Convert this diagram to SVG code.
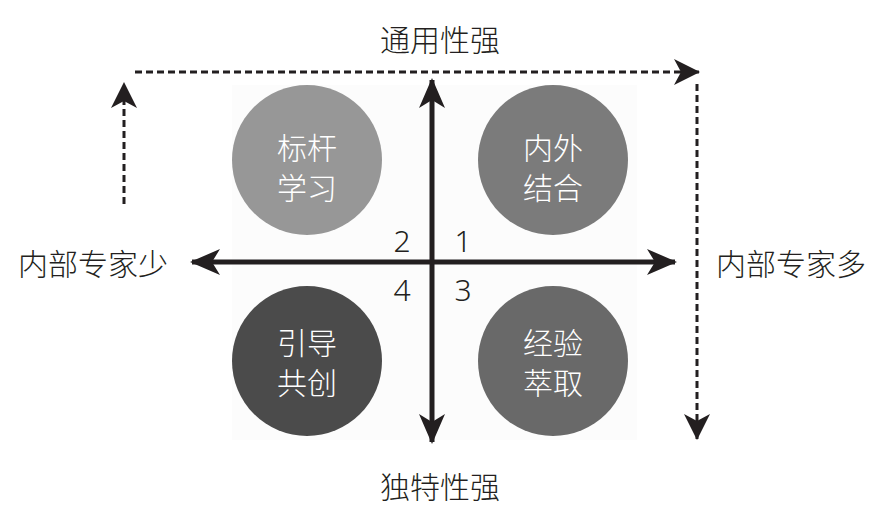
<svg xmlns="http://www.w3.org/2000/svg" width="882" height="530" viewBox="0 0 882 530">
<style>
.lbl{font-family:"Noto Sans CJK SC","Noto Sans",sans-serif;font-size:30px;font-weight:300;fill:#231f20;text-anchor:middle;dominant-baseline:central}
.ct{font-family:"Noto Sans CJK SC",sans-serif;font-size:30px;font-weight:300;fill:#ffffff;text-anchor:middle;dominant-baseline:central}
.num{font-family:"Noto Sans","Liberation Sans",sans-serif;font-size:30px;font-weight:300;fill:#231f20;text-anchor:middle;dominant-baseline:central}
.axis{stroke:#231f20;stroke-width:5;fill:none}
.dash{stroke:#231f20;stroke-width:3;stroke-dasharray:7 4;fill:none}
</style>
<defs>
<marker id="ah" viewBox="0 0 30 26" refX="28" refY="13" markerWidth="30" markerHeight="26" markerUnits="userSpaceOnUse" orient="auto">
<path d="M0,0 L30,13 L0,26 L8,13 Z" fill="#231f20"/>
</marker>
<marker id="ahd" viewBox="0 0 26 26" refX="25" refY="13" markerWidth="26" markerHeight="26" markerUnits="userSpaceOnUse" orient="auto">
<path d="M0,0 L26,13 L0,26 L7,13 Z" fill="#231f20"/>
</marker>
</defs>
<rect x="0" y="0" width="882" height="530" fill="#ffffff"/>
<rect x="232" y="85" width="405" height="355" fill="#fcfcfc"/>
<g id="node-tl"><circle cx="307" cy="160" r="75" fill="#979797"/><text class="ct" x="307" y="146">标杆</text><text class="ct" x="307" y="186">学习</text></g>
<g id="node-tr"><circle cx="553" cy="160" r="75" fill="#7b7b7b"/><text class="ct" x="553" y="146">内外</text><text class="ct" x="553" y="186">结合</text></g>
<g id="node-bl"><circle cx="307" cy="361" r="75" fill="#4b4b4b"/><text class="ct" x="307" y="341">引导</text><text class="ct" x="307" y="381">共创</text></g>
<g id="node-br"><circle cx="553" cy="361" r="75" fill="#696969"/><text class="ct" x="553" y="341">经验</text><text class="ct" x="553" y="381">萃取</text></g>
<g id="connectors">
<line class="axis" x1="432" y1="262" x2="432" y2="80" marker-end="url(#ah)"/>
<line class="axis" x1="432" y1="262" x2="432" y2="442" marker-end="url(#ah)"/>
<line class="axis" x1="432" y1="262" x2="192" y2="262" marker-end="url(#ah)"/>
<line class="axis" x1="432" y1="262" x2="675" y2="262" marker-end="url(#ah)"/>
<line class="dash" x1="135" y1="72" x2="699" y2="72" marker-end="url(#ahd)"/>
<line class="dash" x1="124" y1="204" x2="124" y2="83" marker-end="url(#ahd)"/>
<line class="dash" x1="697" y1="84" x2="697" y2="439" marker-end="url(#ahd)"/>
</g>
<g id="labels">
<text class="lbl" x="440" y="38">通用性强</text>
<text class="lbl" x="440" y="485">独特性强</text>
<text class="lbl" x="93" y="262">内部专家少</text>
<text class="lbl" x="791" y="262">内部专家多</text>
<text class="num" x="402" y="240">2</text>
<text class="num" x="463" y="240">1</text>
<text class="num" x="402" y="289">4</text>
<text class="num" x="463" y="289">3</text>
</g>
</svg>
